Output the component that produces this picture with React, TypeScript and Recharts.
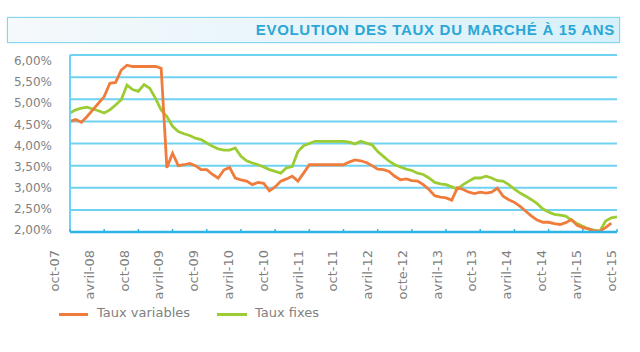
import React from "react";
import {
  LineChart,
  Line,
  XAxis,
  YAxis,
  CartesianGrid,
} from "recharts";

// monthly values, oct-07 .. oct-15 (97 months)
const tauxVariables: (number | null)[] = [
  4.5, 4.54, 4.48, 4.61, 4.76, 4.91, 5.06, 5.36, 5.38, 5.66, 5.77, 5.74,
  5.74, 5.74, 5.74, 5.74, 5.7, 3.45, 3.78, 3.5, 3.52, 3.55, 3.5, 3.41,
  3.41, 3.3, 3.22, 3.4, 3.46, 3.22, 3.18, 3.15, 3.07, 3.12, 3.1, 2.93,
  3.02, 3.15, 3.2, 3.26, 3.15, 3.33, 3.52, 3.52, 3.52, 3.52, 3.52, 3.52,
  3.52, 3.58, 3.63, 3.61, 3.57, 3.5, 3.42, 3.41, 3.37, 3.26, 3.18, 3.2,
  3.16, 3.15, 3.07, 2.96, 2.82, 2.79, 2.77, 2.72, 3.0, 2.96, 2.9, 2.87,
  2.9, 2.88, 2.9, 2.99, 2.81, 2.73, 2.67, 2.58, 2.47, 2.36, 2.27, 2.22,
  2.22, 2.19, 2.17, 2.21, 2.28, 2.15, 2.1, 2.07, 2.02, 2.02, 2.1, 2.2,
  null,
];

const tauxFixes: number[] = [
  4.69, 4.76, 4.8, 4.82, 4.78, 4.74, 4.69, 4.76, 4.87, 4.99, 5.32, 5.22,
  5.18, 5.33, 5.25, 5.02, 4.76, 4.61, 4.39, 4.27, 4.22, 4.18, 4.12, 4.09,
  4.01, 3.94, 3.88, 3.85, 3.85, 3.9, 3.71, 3.61, 3.56, 3.52, 3.47, 3.41,
  3.37, 3.33, 3.45, 3.48, 3.82, 3.95, 4.0, 4.05, 4.05, 4.05, 4.05, 4.05,
  4.05, 4.03, 3.99, 4.05, 4.01, 3.97, 3.82, 3.71, 3.6, 3.52, 3.47, 3.42,
  3.39, 3.33, 3.3, 3.22, 3.12, 3.09, 3.07, 3.02, 2.97, 3.07, 3.15, 3.22,
  3.22, 3.26, 3.22, 3.16, 3.15, 3.07, 2.97, 2.88, 2.81, 2.73, 2.64, 2.52,
  2.45, 2.4, 2.38, 2.36, 2.27, 2.19, 2.13, 2.07, 2.04, 2.02, 2.25, 2.32,
  2.34,
];

const tickLabels = [
  "oct-07", "avril-08", "oct-08", "avril-09", "oct-09", "avril-10",
  "oct-10", "avril-11", "oct-11", "avril-12", "octe-12", "avril-13",
  "oct-13", "avril-14", "oct-14", "avril-15", "oct-15",
];

const yTicks = [2, 2.5, 3, 3.5, 4, 4.5, 5, 5.5, 6];

const data = tauxFixes.map((f, i) => ({
  m: i,
  variables: tauxVariables[i],
  fixes: f,
}));

const ORANGE = "#f07c3c";
const GREEN = "#9ccc34";
const GRID = "#6fd2f2";
const AXIS = "#2db5e6";
const LABEL = "#7f7f7f";
const FONT = "'DejaVu Sans', Verdana, sans-serif";

function XTick(props: any) {
  const { x, y, payload } = props;
  const k = Math.round(payload.value / 6);
  const lx = x - 15.5 + 0.6 * k;
  const ty = y + 18;
  return (
    <g>
      <line x1={x} x2={x} y1={y - 3} y2={y} stroke={AXIS} strokeWidth={1.5} />
      <text
        x={lx}
        y={ty}
        transform={`rotate(-90, ${lx}, ${ty})`}
        textAnchor="end"
        dy="0.35em"
        fontSize={13}
        fontFamily={FONT}
        fill={LABEL}
      >
        {tickLabels[k]}
      </text>
    </g>
  );
}

function YTick(props: any) {
  const { x, y, payload } = props;
  const v = payload.value as number;
  const off = -2 + (v - 2) * 2;
  return (
    <text
      x={x}
      y={y + off}
      textAnchor="end"
      dy="0.35em"
      fontSize={12}
      fontFamily={FONT}
      fill={LABEL}
    >
      {v.toFixed(2).replace(".", ",") + "%"}
    </text>
  );
}

export default function App() {
  return (
    <div
      style={{
        position: "absolute",
        left: 0,
        top: 0,
        width: 640,
        height: 352,
        background: "#fff",
        overflow: "hidden",
      }}
    >
      <div
        style={{
          position: "absolute",
          left: 7,
          top: 17,
          width: 611,
          height: 24,
          border: "1px solid #86d6f0",
          background: "linear-gradient(90deg, #f5f9fb 0%, #e4f4fb 60%, #d6f0fa 100%)",
          boxShadow: "0 0 2px #bfe8f6",
        }}
      >
        <div
          style={{
            position: "absolute",
            right: 4,
            top: 3,
            fontFamily: "'Liberation Sans', Arial, sans-serif",
            fontWeight: "bold",
            fontSize: 15,
            letterSpacing: 0.7,
            color: "#2ba7d6",
            whiteSpace: "nowrap",
          }}
        >
          EVOLUTION DES TAUX DU MARCHÉ À 15 ANS
        </div>
      </div>

      <div style={{ position: "absolute", left: 0, top: 0 }}>
        <LineChart
          width={640}
          height={352}
          data={data}
          margin={{ top: 55, right: 23, left: 0, bottom: 50 }}
        >
          <CartesianGrid
            horizontal={true}
            vertical={false}
            stroke={GRID}
            strokeWidth={2}
          />
          <XAxis
            dataKey="m"
            type="category"
            interval={5}
            height={70}
            tickSize={0}
            tickMargin={0}
            tickLine={false}
            axisLine={{ stroke: AXIS, strokeWidth: 2.5 }}
            tick={<XTick />}
          />
          <YAxis
            domain={[2, 6]}
            ticks={yTicks}
            interval={0}
            width={70}
            tickSize={0}
            tickMargin={18}
            tickLine={false}
            axisLine={{ stroke: GRID, strokeWidth: 2 }}
            tick={<YTick />}
          />
          <YAxis
            yAxisId="right"
            orientation="right"
            domain={[2, 6]}
            width={0}
            tick={false}
            tickLine={false}
            axisLine={{ stroke: GRID, strokeWidth: 2 }}
          />
          <Line
            type="linear"
            dataKey="fixes"
            stroke={GREEN}
            strokeWidth={2.8}
            dot={false}
            isAnimationActive={false}
          />
          <Line
            type="linear"
            dataKey="variables"
            stroke={ORANGE}
            strokeWidth={2.8}
            dot={false}
            connectNulls={false}
            isAnimationActive={false}
          />
        </LineChart>
      </div>

      <div
        style={{
          position: "absolute",
          left: 0,
          top: 305,
          fontFamily: FONT,
          fontSize: 13,
          color: LABEL,
        }}
      >
        <div style={{ position: "absolute", left: 59, top: 8, width: 29, height: 3, background: ORANGE }} />
        <div style={{ position: "absolute", left: 97, top: 0, whiteSpace: "nowrap" }}>Taux variables</div>
        <div style={{ position: "absolute", left: 217, top: 8, width: 30, height: 3, background: GREEN }} />
        <div style={{ position: "absolute", left: 255, top: 0, whiteSpace: "nowrap" }}>Taux fixes</div>
      </div>
    </div>
  );
}
